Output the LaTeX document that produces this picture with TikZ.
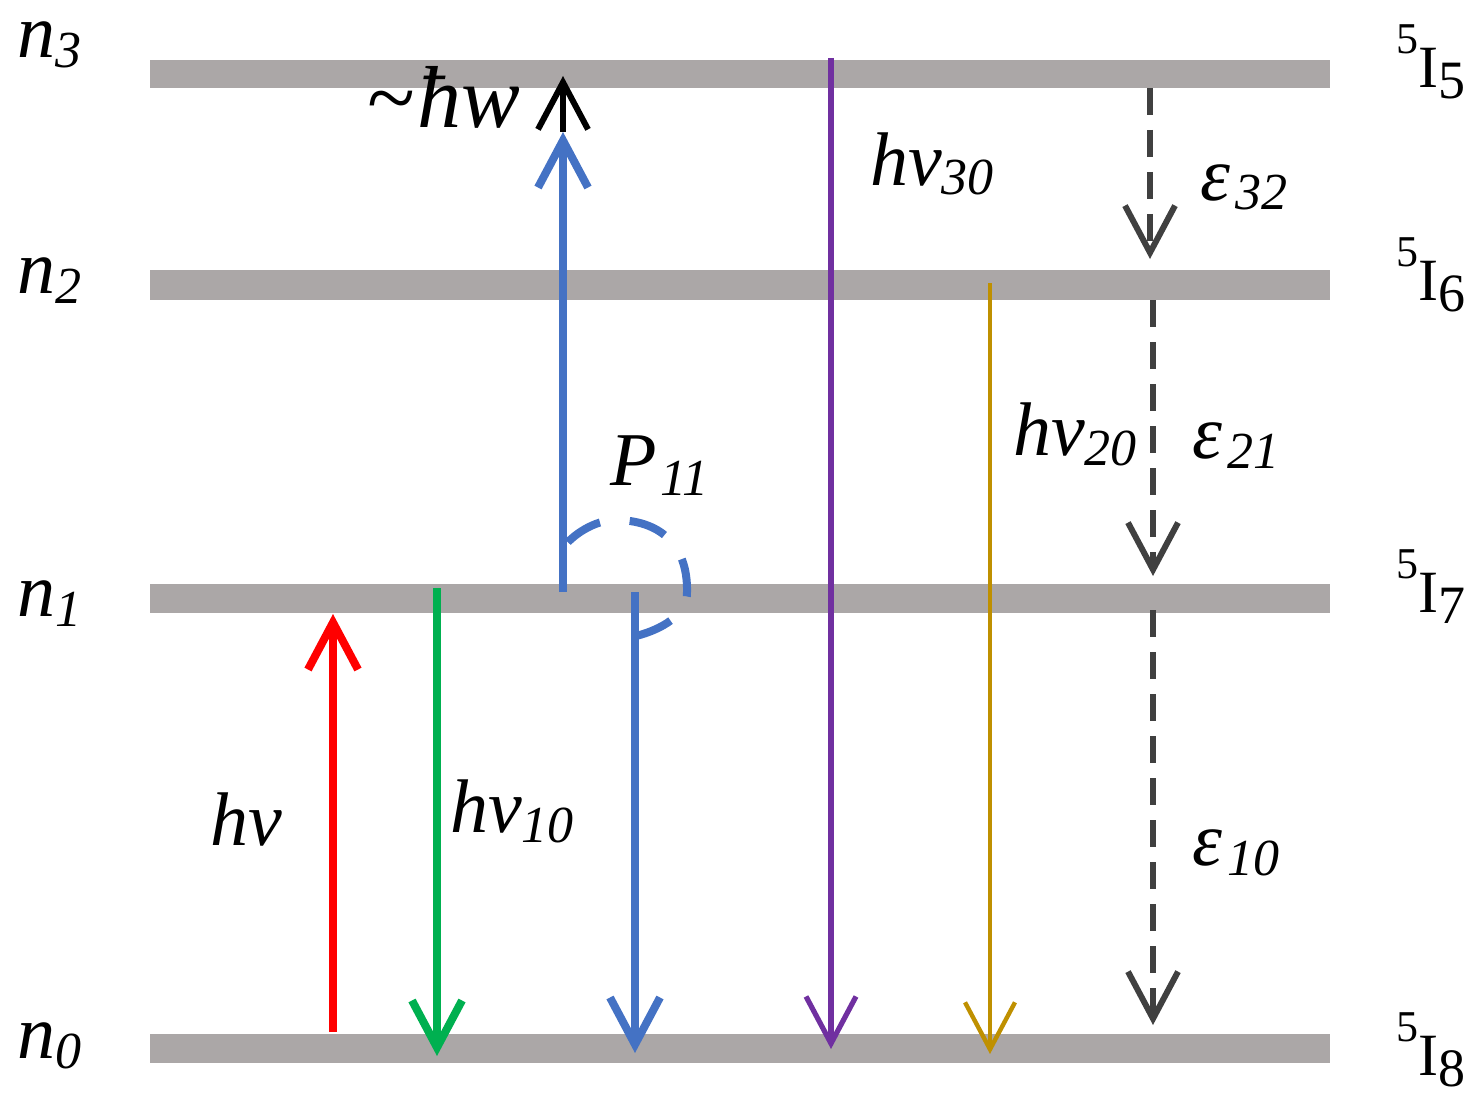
\documentclass[tikz,border=0pt]{standalone}
\usepackage{fontspec}
\setmainfont{Liberation Serif}[ItalicFont={Liberation Serif Italic}]
\usetikzlibrary{arrows.meta}
\definecolor{lvl}{RGB}{171,167,167}
\definecolor{cred}{RGB}{255,0,0}
\definecolor{cgreen}{RGB}{0,176,80}
\definecolor{cblue}{RGB}{68,114,196}
\definecolor{cpurple}{RGB}{112,48,160}
\definecolor{cgold}{RGB}{191,144,0}
\definecolor{cdark}{RGB}{64,64,64}
\newcommand\mainit{\fontsize{38}{40}\selectfont\itshape}
\newcommand\subit[1]{\raisebox{-5pt}{\fontsize{26}{28}\selectfont\itshape #1}}
\newcommand\termlbl[2]{\raisebox{17pt}{\fontsize{22}{24}\selectfont 5}{\fontsize{30}{32}\selectfont I}\raisebox{-5.5pt}{\fontsize{27}{29}\selectfont #2}}
\begin{document}
\begin{tikzpicture}[x=0.5pt,y=-0.5pt,
  lbl/.style={anchor=base west,inner sep=0pt,outer sep=0pt},
  levelbar/.style={fill=lvl},
  trans/.style={line width=#1,-{Straight Barb[length=23.5pt,width=25pt]}},
  dtrans/.style={line width=3pt,color=cdark,dash pattern=on 13.5pt off 7.5pt,-{Straight Barb[length=23.5pt,width=25pt]}}]
\useasboundingbox (0,0) rectangle (1481,1107);
% levels
\fill[levelbar] (150,60) rectangle (1330,88);
\fill[levelbar] (150,270) rectangle (1330,300);
\fill[levelbar] (150,584) rectangle (1330,613);
\fill[levelbar] (150,1034) rectangle (1330,1063);
% coordinates
\coordinate (rS) at (333,1032); \coordinate (rE) at (333,614);
\coordinate (gS) at (437,588);  \coordinate (gE) at (437,1056);
\coordinate (buS) at (563,592); \coordinate (buE) at (563,132);
\coordinate (kE) at (563,76);
\coordinate (bdS) at (635,592); \coordinate (bdE) at (635,1053);
\coordinate (pS) at (831,58);   \coordinate (pE) at (831,1049);
\coordinate (oS) at (990,283);  \coordinate (oE) at (990,1054);
\coordinate (d1S) at (1150,88);  \coordinate (d1E) at (1150,259);
\coordinate (d2S) at (1153,300); \coordinate (d2E) at (1153,576);
\coordinate (d3S) at (1153,610); \coordinate (d3E) at (1153,1025);
\coordinate (pa) at (563,548);  \coordinate (pb) at (636,636);
% arrows
\draw[trans=4pt,cred] (rS) -- (rE);
\draw[trans=4pt,cgreen] (gS) -- (gE);
\draw[trans=4pt,cblue] (buS) -- (buE);
\draw[trans=3pt,black] (buE) -- (kE);
\draw[trans=4pt,cblue] (bdS) -- (bdE);
\draw[trans=2.6pt,cpurple] (pS) -- (pE);
\draw[trans=2.2pt,cgold] (oS) -- (oE);
\draw[dtrans] (d1S) -- (d1E);
\draw[dtrans] (d2S) -- (d2E);
\draw[dtrans] (d3S) -- (d3E);
\draw[cblue,line width=4pt,dash pattern=on 19pt off 15pt]
  (pb) .. controls (660,630) and (688,615) .. (687,592)
       .. controls (688,545) and (660,520) .. (615,520)
       .. controls (595,520) and (572,535) .. (pa);
% left labels
\node[lbl] (n3) at (18,58) {\mainit n\subit{3}};
\node[lbl] (n2) at (18,293) {\mainit n\subit{2}};
\node[lbl] (n1) at (18,616) {\mainit n\subit{1}};
\node[lbl] (n0) at (18,1058) {\mainit n\subit{0}};
% right labels
\node[lbl] (t5) at (1396,88) {\termlbl{}{5}};
\node[lbl] (t6) at (1396,300) {\termlbl{}{6}};
\node[lbl] (t7) at (1396,612) {\termlbl{}{7}};
\node[lbl] (t8) at (1396,1075) {\termlbl{}{8}};
% transition labels
\node[lbl] (hw) at (366,128) {\fontsize{44}{46}\selectfont\itshape\textasciitilde\hspace{2pt}ħw};
\node[lbl] (h30) at (870,185) {\mainit hv\subit{30}};
\node[lbl] (e32) at (1200,200) {\mainit ε\hspace{3pt}\subit{32}};
\node[lbl] (h20) at (1013,455) {\mainit hv\subit{20}};
\node[lbl] (e21) at (1192,458) {\mainit ε\hspace{3pt}\subit{21}};
\node[lbl] (p11) at (610,485) {\mainit P\hspace{2pt}\subit{11}};
\node[lbl] (h) at (210,845) {\mainit hv};
\node[lbl] (h10) at (450,832) {\mainit hv\subit{10}};
\node[lbl] (e10) at (1192,865) {\mainit ε\hspace{3pt}\subit{10}};
\end{tikzpicture}
\end{document}
